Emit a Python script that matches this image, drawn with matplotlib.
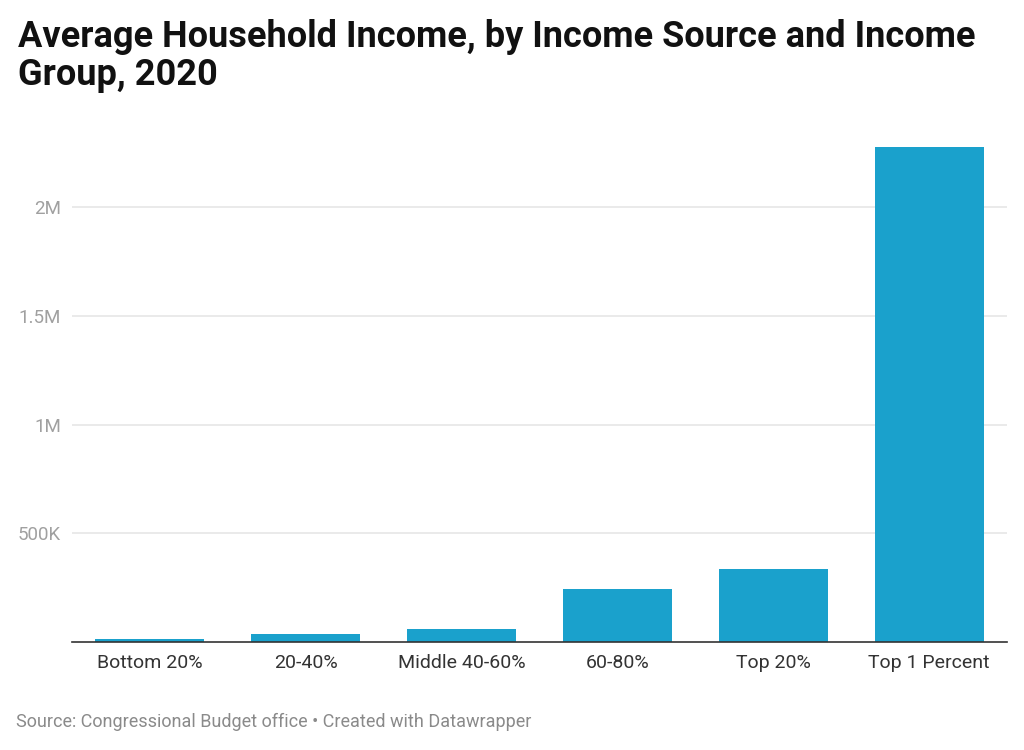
import matplotlib
matplotlib.use("Agg")
import matplotlib.pyplot as plt

categories = ["Bottom 20%", "20-40%", "Middle 40-60%", "60-80%", "Top 20%", "Top 1 Percent"]
values = [12000, 35000, 61000, 242000, 337000, 2278000]
yticks = [500000, 1000000, 1500000, 2000000]
ytick_labels = ["500K", "1M", "1.5M", "2M"]

plt.rcParams['font.family'] = ['Roboto', 'DejaVu Sans']

fig = plt.figure(figsize=(10.24, 7.5), dpi=100)
ax = fig.add_axes([72/1024, (750-642)/750, 935/1024, 502/750])

x = list(range(len(categories)))
ax.bar(x, values, width=0.7, color="#1aa1cc", zorder=3)
ax.set_xlim(-0.5, len(categories)-0.5)
ax.set_ylim(0, 502/0.21735*1000)

ax.set_yticks(yticks)
ax.set_yticklabels(ytick_labels)
ax.set_xticks(x)
ax.set_xticklabels(categories)

ax.grid(axis='y', color="#e6e6e6", linewidth=1.2, zorder=0)
for s in ['top', 'right', 'left']:
    ax.spines[s].set_visible(False)
ax.spines['bottom'].set_color("#333333")
ax.spines['bottom'].set_linewidth(1.2)
ax.spines['bottom'].set_zorder(4)

ax.tick_params(axis='y', length=0, pad=8, labelsize=13.5, labelcolor="#a0a0a0")
ax.tick_params(axis='x', length=0, pad=9, labelsize=14, labelcolor="#333333")

fig.text(18/1024, 1-47/750, "Average Household Income, by Income Source and Income",
         fontsize=26, fontweight='bold', color="#111111", ha='left', va='baseline')
fig.text(18/1024, 1-85/750, "Group, 2020",
         fontsize=26, fontweight='bold', color="#111111", ha='left', va='baseline')
fig.text(16/1024, 1-727/750, "Source: Congressional Budget office • Created with Datawrapper",
         fontsize=13, color="#8a8a8a", ha='left', va='baseline')

fig.savefig("out.png", dpi=100)
